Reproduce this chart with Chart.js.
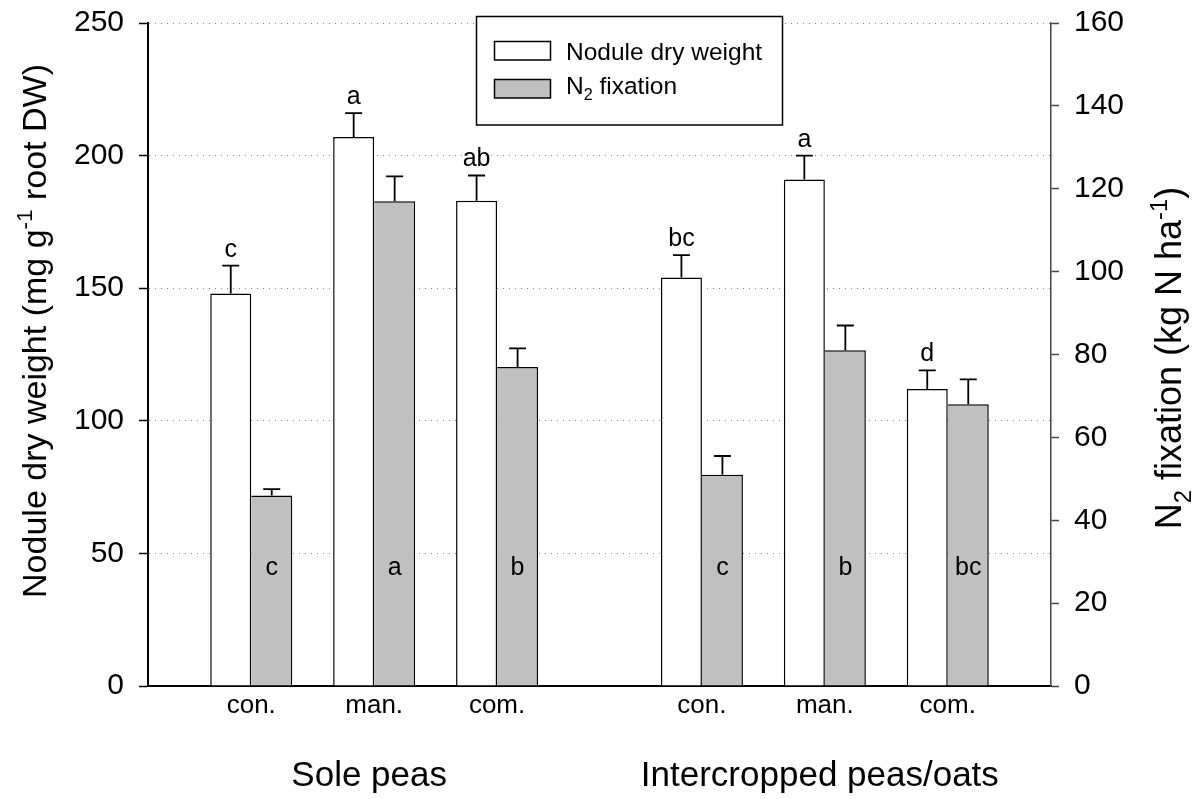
<!DOCTYPE html>
<html>
<head>
<meta charset="utf-8">
<script src="https://cdn.jsdelivr.net/npm/chart.js@4.4.1/dist/chart.umd.min.js"></script>
<style>
  html, body { margin: 0; padding: 0; background: #fff; }
  #wrap { width: 1204px; height: 799px; }
</style>
</head>
<body>
<div id="wrap"><canvas id="chart" width="1204" height="799"></canvas></div>
<script>
// Fertilisation treatments within each cropping system
const treatments = ['con.', 'man.', 'com.', 'con.', 'man.', 'com.'];
const systems = ['Sole peas', 'Intercropped peas/oats'];
const seriesNames = ['Nodule dry weight', 'N_{2} fixation'];

// Nodule dry weight, mg g-1 root DW (left axis)
const noduleDW = [148, 207, 183, 154, 191, 112];
const noduleSE = [10.5, 9, 9.5, 8.5, 9, 7];
const noduleLetters = ['c', 'a', 'ab', 'bc', 'a', 'd'];

// N2 fixation, kg N ha-1 (right axis)
const n2Fix = [46, 117, 77, 51, 81, 68];
const n2FixSE = [1.5, 6, 4.5, 4.5, 6, 6];
const n2FixLetters = ['c', 'a', 'b', 'c', 'b', 'bc'];

const leftTicks = [0, 50, 100, 150, 200, 250];
const rightTicks = [0, 20, 40, 60, 80, 100, 120, 140, 160];
const leftTitle = 'Nodule dry weight (mg g^{-1} root DW)';
const rightTitle = 'N_{2} fixation (kg N ha^{-1})';

// ---- layout ----
const FONT = '"Liberation Sans", Arial, Helvetica, sans-serif';
const PER_BLOCK = 3;
const BLOCK_GAP = 5 / 3;   // spacing between the two cropping systems, in group units
const EDGE = 0.84;         // space between the frame and the outermost groups
const xPos = treatments.map((_, i) =>
  Math.floor(i / PER_BLOCK) * (PER_BLOCK - 1 + BLOCK_GAP) + (i % PER_BLOCK));

// Tiny markup: _{..} subscript, ^{..} superscript
function parseRich(s) {
  const out = []; const re = /([_^])\{([^}]*)\}/g; let last = 0, m;
  while ((m = re.exec(s))) {
    if (m.index > last) out.push({ t: s.slice(last, m.index), k: 0 });
    out.push({ t: m[2], k: m[1] === '^' ? 1 : -1 });
    last = re.lastIndex;
  }
  if (last < s.length) out.push({ t: s.slice(last), k: 0 });
  return out;
}
const plain = s => parseRich(s).map(p => p.t).join('');

function drawRich(ctx, s, x, y, size, align) {
  const segs = parseRich(s);
  const small = size * 0.66;
  let total = 0;
  segs.forEach(p => {
    ctx.font = (p.k ? small : size) + 'px ' + FONT;
    p.w = ctx.measureText(p.t).width; total += p.w;
  });
  let cx = align === 'center' ? x - total / 2 : x;
  ctx.textAlign = 'left';
  ctx.textBaseline = 'alphabetic';
  segs.forEach(p => {
    ctx.font = (p.k ? small : size) + 'px ' + FONT;
    const dy = p.k === 1 ? -size * 0.40 : (p.k === -1 ? size * 0.27 : 0);
    ctx.fillText(p.t, cx, y + dy);
    cx += p.w;
  });
}

// keep the plot frame fixed: no extra room reserved for end tick labels
const noLabelPad = s => { s.paddingTop = 0; s.paddingBottom = 0; };

const extras = {
  id: 'extras',
  afterDatasetsDraw(chart) {
    const ctx = chart.ctx;
    const yBase = chart.scales.y.getPixelForValue(0);
    const series = [
      { vals: noduleDW, se: noduleSE, letters: noduleLetters, axis: 'y', above: true },
      { vals: n2Fix, se: n2FixSE, letters: n2FixLetters, axis: 'y1', above: false }
    ];
    series.forEach((s, d) => {
      const meta = chart.getDatasetMeta(d);
      const sc = chart.scales[s.axis];
      meta.data.forEach((bar, i) => {
        const top = sc.getPixelForValue(s.vals[i]);
        const cap = sc.getPixelForValue(s.vals[i] + s.se[i]);
        ctx.save();
        ctx.strokeStyle = '#000';
        ctx.lineWidth = 1.8;
        ctx.beginPath();
        ctx.moveTo(bar.x, top); ctx.lineTo(bar.x, cap);
        ctx.moveTo(bar.x - 8.5, cap); ctx.lineTo(bar.x + 8.5, cap);
        ctx.stroke();
        ctx.fillStyle = '#000';
        ctx.font = '25px ' + FONT;
        ctx.textAlign = 'center';
        ctx.textBaseline = 'alphabetic';
        const ly = s.above ? cap - 9 : yBase - 111;
        ctx.fillText(s.letters[i], bar.x, ly);
        ctx.restore();
      });
    });
  },
  afterDraw(chart) {
    const ctx = chart.ctx;
    const xs = chart.scales.x;
    ctx.save();

    // legend box
    ctx.fillStyle = '#fff';
    ctx.fillRect(476, 16.5, 306.5, 108.5);
    ctx.strokeStyle = '#000';
    ctx.lineWidth = 1.5;
    ctx.strokeRect(476.5, 16.5, 306, 108.5);
    const fills = chart.data.datasets.map(ds => ds.backgroundColor);
    seriesNames.forEach((name, k) => {
      const sy = 41 + k * 38;
      ctx.fillStyle = fills[k];
      ctx.fillRect(494, sy, 57, 19);
      ctx.strokeStyle = '#000';
      ctx.lineWidth = 1.5;
      ctx.strokeRect(494.5, sy + 0.5, 56, 18.5);
      ctx.fillStyle = '#000';
      drawRich(ctx, name, 566, 60 + k * 33.5, 24.5, 'left');
    });

    // axis titles
    ctx.fillStyle = '#000';
    ctx.save();
    ctx.translate(45.5, 331);
    ctx.rotate(-Math.PI / 2);
    drawRich(ctx, leftTitle, 0, 0, 34, 'center');
    ctx.restore();
    ctx.save();
    ctx.translate(1181, 358);
    ctx.rotate(-Math.PI / 2);
    drawRich(ctx, rightTitle, 0, 0, 36, 'center');
    ctx.restore();

    // cropping system labels under each block
    systems.forEach((name, b) => {
      const first = xPos[b * PER_BLOCK], last = xPos[b * PER_BLOCK + PER_BLOCK - 1];
      const cx = xs.getPixelForValue((first + last) / 2) - 5;
      drawRich(ctx, name, cx, 786, 35, 'center');
    });
    ctx.restore();
  }
};

const chart = new Chart(document.getElementById('chart'), {
  type: 'bar',
  data: {
    datasets: [
      {
        label: plain(seriesNames[0]),
        data: noduleDW.map((v, i) => ({ x: xPos[i], y: v })),
        yAxisID: 'y',
        backgroundColor: '#ffffff',
        borderColor: '#000000',
        borderWidth: { top: 1.5, left: 1.5, right: 1.5, bottom: 0 },
        borderSkipped: false,
        barThickness: 41,
        inflateAmount: 0
      },
      {
        label: plain(seriesNames[1]),
        data: n2Fix.map((v, i) => ({ x: xPos[i], y: v })),
        yAxisID: 'y1',
        backgroundColor: '#c0c0c0',
        borderColor: '#000000',
        borderWidth: { top: 1.5, left: 0, right: 1.5, bottom: 0 },
        borderSkipped: false,
        barThickness: 41,
        inflateAmount: 0
      }
    ]
  },
  options: {
    responsive: false,
    animation: false,
    events: [],
    devicePixelRatio: 1,
    layout: { padding: { top: 23, left: 0, right: 0, bottom: 0 } },
    plugins: { legend: { display: false }, tooltip: { enabled: false } },
    scales: {
      x: {
        type: 'linear',
        min: -EDGE,
        max: xPos[xPos.length - 1] + EDGE,
        offset: false,
        grid: { display: false, drawTicks: false, offset: false },
        border: { display: true, color: '#000', width: 2 },
        afterBuildTicks: s => { s.ticks = xPos.map(v => ({ value: v })); },
        afterFit: s => { s.height = 113; s.paddingLeft = 0; s.paddingRight = 0; },
        ticks: {
          callback: (v, i) => treatments[i],
          autoSkip: false, maxRotation: 0, minRotation: 0,
          padding: 4, color: '#000',
          font: { family: FONT, size: 26 }
        }
      },
      y: {
        position: 'left',
        min: leftTicks[0],
        max: leftTicks[leftTicks.length - 1],
        afterBuildTicks: s => { s.ticks = leftTicks.map(v => ({ value: v })); },
        afterFit: s => { s.width = 148; noLabelPad(s); },
        grid: {
          color: c => (c.tick && c.tick.value === 0 ? 'rgba(0,0,0,0)' : '#8c8c8c'),
          lineWidth: 1,
          drawTicks: true, tickLength: 9, tickColor: '#000', tickWidth: 1.5
        },
        border: { display: true, color: '#000', width: 2, dash: [1, 5] },
        ticks: { padding: 15, color: '#000', font: { family: FONT, size: 30 } }
      },
      y1: {
        position: 'right',
        min: rightTicks[0],
        max: rightTicks[rightTicks.length - 1],
        afterBuildTicks: s => { s.ticks = rightTicks.map(v => ({ value: v })); },
        afterFit: s => { s.width = 153; noLabelPad(s); },
        grid: {
          drawOnChartArea: false,
          drawTicks: true, tickLength: 8, tickColor: '#444', tickWidth: 1.5
        },
        border: { display: true, color: '#444', width: 1.5 },
        ticks: { padding: 15, color: '#000', font: { family: FONT, size: 30 } }
      }
    }
  },
  plugins: [extras]
});
</script>
</body>
</html>
